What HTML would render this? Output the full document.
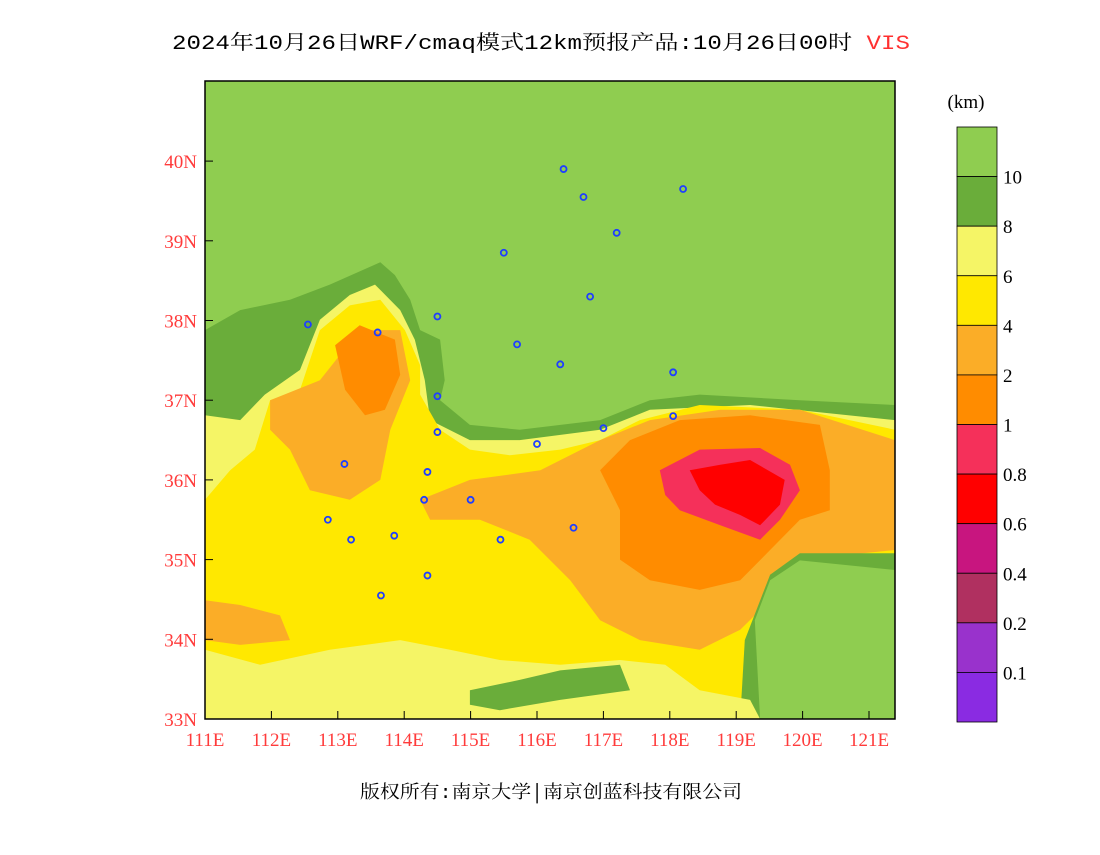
<!DOCTYPE html>
<html><head><meta charset="utf-8"><style>
body{margin:0;background:#fff;width:1100px;height:850px;overflow:hidden}
svg text{font-family:"Liberation Mono","Noto Serif CJK SC",serif}
svg text.ser{font-family:"Liberation Serif",serif}
</style></head><body>
<svg id="s" width="1100" height="850" xmlns="http://www.w3.org/2000/svg">
<defs><clipPath id="cp"><rect x="205" y="81" width="690" height="638"/></clipPath></defs>
<text x="541" y="49" text-anchor="middle" font-size="20" textLength="738" lengthAdjust="spacingAndGlyphs">2024年10月26日WRF/cmaq模式12km预报产品:10月26日00时 <tspan fill="#ff3030">VIS</tspan></text>
<g id="map" clip-path="url(#cp)"></g>
<g id="axes"></g>
<g id="cbar"></g>
<text x="551" y="798" text-anchor="middle" font-size="18" textLength="382" lengthAdjust="spacingAndGlyphs">版权所有:南京大学│南京创蓝科技有限公司</text>
</svg>
<script>
const lonTicks=[111,112,113,114,115,116,117,118,119,120,121];
const latTicks=[33,34,35,36,37,38,39,40];
const legendLabels=["10","8","6","4","2","1","0.8","0.6","0.4","0.2","0.1"];
const legendColors=["#8fcd50","#6aad3a","#f5f566","#ffe800","#fbad27","#ff8c00","#f5305a","#ff0000","#c8157f","#b03060","#9932cc","#8a2be2"];
const cities=[[116.4,39.9],[117.2,39.1],[118.2,39.65],[116.7,39.55],[115.5,38.85],[116.8,38.3],[114.5,38.05],[113.6,37.85],[112.55,37.95],[115.7,37.7],[116.35,37.45],[118.05,37.35],[118.05,36.8],[117.0,36.65],[116.0,36.45],[114.5,37.05],[114.5,36.6],[114.35,36.1],[113.1,36.2],[114.3,35.75],[115.0,35.75],[115.45,35.25],[116.55,35.4],[113.85,35.3],[113.2,35.25],[112.85,35.5],[114.35,34.8],[113.65,34.55]];
const regDarkGreenOuter=[[111,37.88],[111.53,38.13],[112.28,38.26],[112.88,38.45],[113.64,38.73],[113.86,38.57],[114.09,38.26],[114.24,37.88],[114.54,37.76],[114.61,37.25],[114.54,37.0],[114.99,36.69],[115.74,36.63],[116.95,36.75],[117.7,37.0],[118.45,37.07],[119.96,37.0],[121.39,36.94],[121.39,33],[111,33]];
const regLightYellow=[[111,36.81],[111.53,36.75],[111.9,37.07],[112.43,37.38],[112.73,38.01],[113.18,38.32],[113.56,38.45],[113.94,38.13],[114.16,37.76],[114.31,37.25],[114.39,36.75],[114.99,36.5],[115.74,36.5],[116.95,36.63],[117.7,36.88],[119.21,36.94],[121.39,36.75],[121.39,33],[111,33]];
const regYellow=[[111,35.75],[111.38,36.12],[111.75,36.38],[111.98,37.0],[112.43,37.13],[112.73,37.88],[113.18,38.19],[113.64,38.26],[114.01,37.88],[114.24,37.44],[114.24,37.07],[114.54,36.63],[114.99,36.38],[115.59,36.31],[116.35,36.38],[116.95,36.5],[117.55,36.75],[118.45,36.94],[119.96,36.88],[121.39,36.63],[121.39,33],[111,33]];
const regLightOrange=[[114.24,35.75],[114.99,36.0],[116.05,36.12],[116.95,36.5],[117.7,36.75],[118.76,36.88],[119.96,36.88],[121.39,36.5],[121.39,35.12],[119.96,35.0],[119.51,34.49],[119.06,34.12],[118.45,33.87],[117.55,33.99],[116.95,34.24],[116.5,34.74],[115.89,35.25],[115.14,35.5],[114.39,35.5]];
const regLightOrange2=[[111.98,37.0],[112.73,37.25],[113.33,37.88],[113.94,37.88],[114.09,37.25],[113.79,36.63],[113.64,36.0],[113.18,35.75],[112.58,35.87],[112.28,36.38],[111.98,36.63]];
const regLightOrange3=[[111,34.49],[111.53,34.43],[112.13,34.3],[112.28,33.99],[111.53,33.93],[111,33.99]];
const regOrange=[[116.95,36.12],[117.4,36.5],[118.15,36.75],[119.21,36.81],[120.26,36.69],[120.41,36.12],[120.41,35.62],[119.96,35.5],[119.51,35.12],[119.06,34.74],[118.45,34.62],[117.7,34.74],[117.25,35.0],[117.25,35.62]];
const regOrange2=[[112.96,37.69],[113.33,37.94],[113.86,37.76],[113.94,37.32],[113.71,36.88],[113.41,36.81],[113.11,37.13]];
const regPink=[[117.85,36.12],[118.45,36.38],[119.36,36.4],[119.81,36.19],[119.96,35.87],[119.66,35.5],[119.36,35.25],[118.76,35.43],[118.15,35.62],[117.93,35.81]];
const regRed=[[118.3,36.12],[118.76,36.19],[119.21,36.25],[119.73,36.0],[119.66,35.69],[119.36,35.43],[119.06,35.56],[118.68,35.69],[118.45,35.87]];
const regDarkGreenSE=[[119.06,33],[119.13,33.99],[119.51,34.81],[119.96,35.08],[121.39,35.08],[121.39,33]];
const regGreenSE=[[119.36,33],[119.28,34.24],[119.51,34.74],[119.96,34.99],[121.39,34.87],[121.39,33]];
const regLightYellowS=[[111,33.87],[111.83,33.68],[112.88,33.87],[113.94,33.99],[114.69,33.87],[115.44,33.74],[116.35,33.68],[117.25,33.74],[117.93,33.68],[118.45,33.36],[119.21,33.24],[119.36,33],[111,33]];
const regDarkGreenS=[[114.99,33.36],[115.74,33.49],[116.35,33.61],[117.25,33.68],[117.4,33.36],[116.35,33.24],[115.44,33.11],[114.99,33.18]];
const lon0=111,lat0=33,pxLon=66.4,pxLat=79.7,X0=205,Y0=719;
const xs=lon=>X0+(lon-lon0)*pxLon, ys=lat=>Y0-(lat-lat0)*pxLat;
const NS="http://www.w3.org/2000/svg";
function mk(tag,parent,attrs){const e=document.createElementNS(NS,tag);for(const k in attrs)e.setAttribute(k,attrs[k]);parent.appendChild(e);return e;}
const map=document.getElementById('map');
let bg=mk('rect',map,{x:205,y:81,width:690,height:638,fill:legendColors[0]});


const layers=[[regDarkGreenOuter,1,'region-8-10km'],[regLightYellow,2,'region-6-8km'],[regYellow,3,'region-4-6km'],[regLightOrange,4,'region-2-4km'],[regLightOrange2,4,'region-2-4km-west'],[regLightOrange3,4,'region-2-4km-southwest'],[regOrange,5,'region-1-2km'],[regOrange2,5,'region-1-2km-west'],[regPink,6,'region-0.8-1km'],[regRed,7,'region-0.6-0.8km'],[regDarkGreenSE,1,'region-8-10km-southeast'],[regGreenSE,0,'region-over-10km-southeast'],[regLightYellowS,2,'region-6-8km-south'],[regDarkGreenS,1,'region-8-10km-south']];
layers.forEach(([pts,ci,name])=>{
 const p=mk('polygon',map,{points:pts.map(q=>xs(q[0]).toFixed(1)+','+ys(q[1]).toFixed(1)).join(' '),fill:legendColors[ci]});
 
 
});
cities.forEach(c=>{
 const e=mk('circle',map,{cx:xs(c[0]),cy:ys(c[1]),r:3,fill:'none',stroke:'#1f3fff','stroke-width':1.8});
 
 
});
const ax=document.getElementById('axes');
let fr=mk('rect',ax,{x:205,y:81,width:690,height:638,fill:'none',stroke:'#000','stroke-width':1.5});


lonTicks.forEach(l=>{const x=xs(l);
 mk('line',ax,{x1:x,x2:x,y1:719,y2:711,stroke:'#000'});
 const t=mk('text',ax,{x:x,y:746,'text-anchor':'middle','font-size':19,fill:'#ff3b3b',class:'ser'});t.textContent=l+'E';
 
 });
latTicks.forEach(l=>{const y=ys(l);
 mk('line',ax,{x1:205,x2:213,y1:y,y2:y,stroke:'#000'});
 const t=mk('text',ax,{x:197,y:y+7,'text-anchor':'end','font-size':19,fill:'#ff3b3b',class:'ser'});t.textContent=l+'N';
 
 });
const cb=document.getElementById('cbar');
const segH=(722-127)/legendColors.length;
legendColors.forEach((c,i)=>{const r=mk('rect',cb,{x:957,y:127+i*segH,width:40,height:segH,fill:c,stroke:'#000','stroke-width':0.8});
 
 });
legendLabels.forEach((s,i)=>{const t=mk('text',cb,{x:1003,y:127+(i+1)*segH+7,'font-size':19,class:'ser'});t.textContent=s;
 
 });
const u=mk('text',cb,{x:966,y:108,'text-anchor':'middle','font-size':19,class:'ser'});u.textContent='(km)';


</script>
</body></html>
